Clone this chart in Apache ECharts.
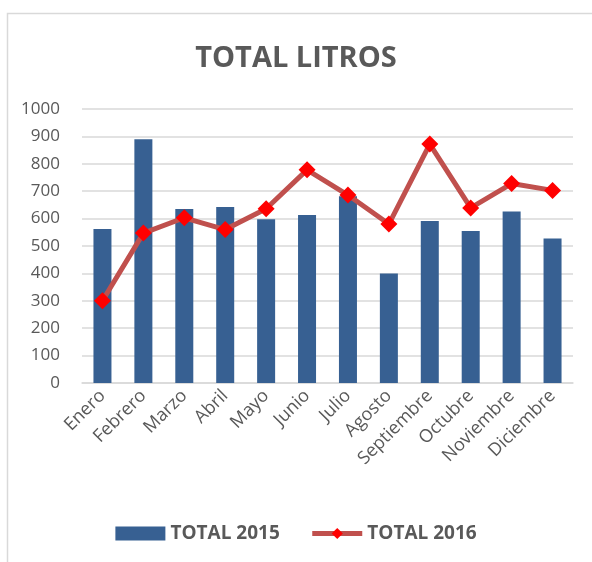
<!DOCTYPE html>
<html><head><meta charset="utf-8">
<script src="https://cdn.jsdelivr.net/npm/echarts@6/dist/echarts.min.js"></script>
<style>html,body{margin:0;padding:0;background:#fff}#c{width:592px;height:562px}</style>
</head><body><div id="c"></div>
<script>
var months = ['Enero','Febrero','Marzo','Abril','Mayo','Junio','Julio','Agosto','Septiembre','Octubre','Noviembre','Diciembre'];
var total2015 = [562, 890, 635, 642, 598, 613, 682, 400, 591, 555, 626, 527];
var total2016 = [300, 547, 603, 560, 636, 778, 686, 580, 872, 639, 728, 703];
var yTicks = [0, 100, 200, 300, 400, 500, 600, 700, 800, 900, 1000];

var chart = echarts.init(document.getElementById('c'));
var font = 'Open Sans';
chart.setOption({
  animation: false,
  graphic: [{type:'rect', shape:{x:7.5,y:13.5,width:700,height:700}, style:{fill:'none', stroke:'#d9d9d9', lineWidth:1.5}, silent:true}],
  title: {text:'TOTAL LITROS', left:'center', top:39, textStyle:{fontFamily:font, fontWeight:'bold', fontSize:29, color:'#595959'}},
  grid: {left:82, right:19, top:109, bottom:179},
  legend: {bottom:14, left:'center', itemGap:30, textStyle:{fontFamily:font, fontWeight:'bold', fontSize:19, color:'#595959'},
    data:[{name:'TOTAL 2015', icon:'rect'},{name:'TOTAL 2016', lineStyle:{width:5, color:'#C0504D'}}], itemWidth:50, itemHeight:14},
  xAxis: {type:'category', data:months, axisTick:{show:false}, axisLine:{lineStyle:{color:'#d9d9d9', width:1.5}},
    axisLabel:{rotate:45, interval:0, fontFamily:font, fontSize:18, color:'#595959', margin:10}},
  yAxis: {type:'value', min:yTicks[0], max:yTicks[yTicks.length-1], interval:100,
    axisLabel:{fontFamily:font, fontSize:17, color:'#595959', margin:22, formatter:function(v){return String(v);}},
    splitLine:{lineStyle:{color:'#d9d9d9', width:1.5}}, axisLine:{show:false}, axisTick:{show:false}},
  series: [
    {name:'TOTAL 2015', type:'bar', data:total2015, barWidth:'44%', itemStyle:{color:'#376092'}},
    {name:'TOTAL 2016', type:'line', data:total2016, symbol:'diamond', symbolSize:17,
      lineStyle:{color:'#C0504D', width:5}, itemStyle:{color:'#FF0000'}}
  ]
});
</script></body></html>
